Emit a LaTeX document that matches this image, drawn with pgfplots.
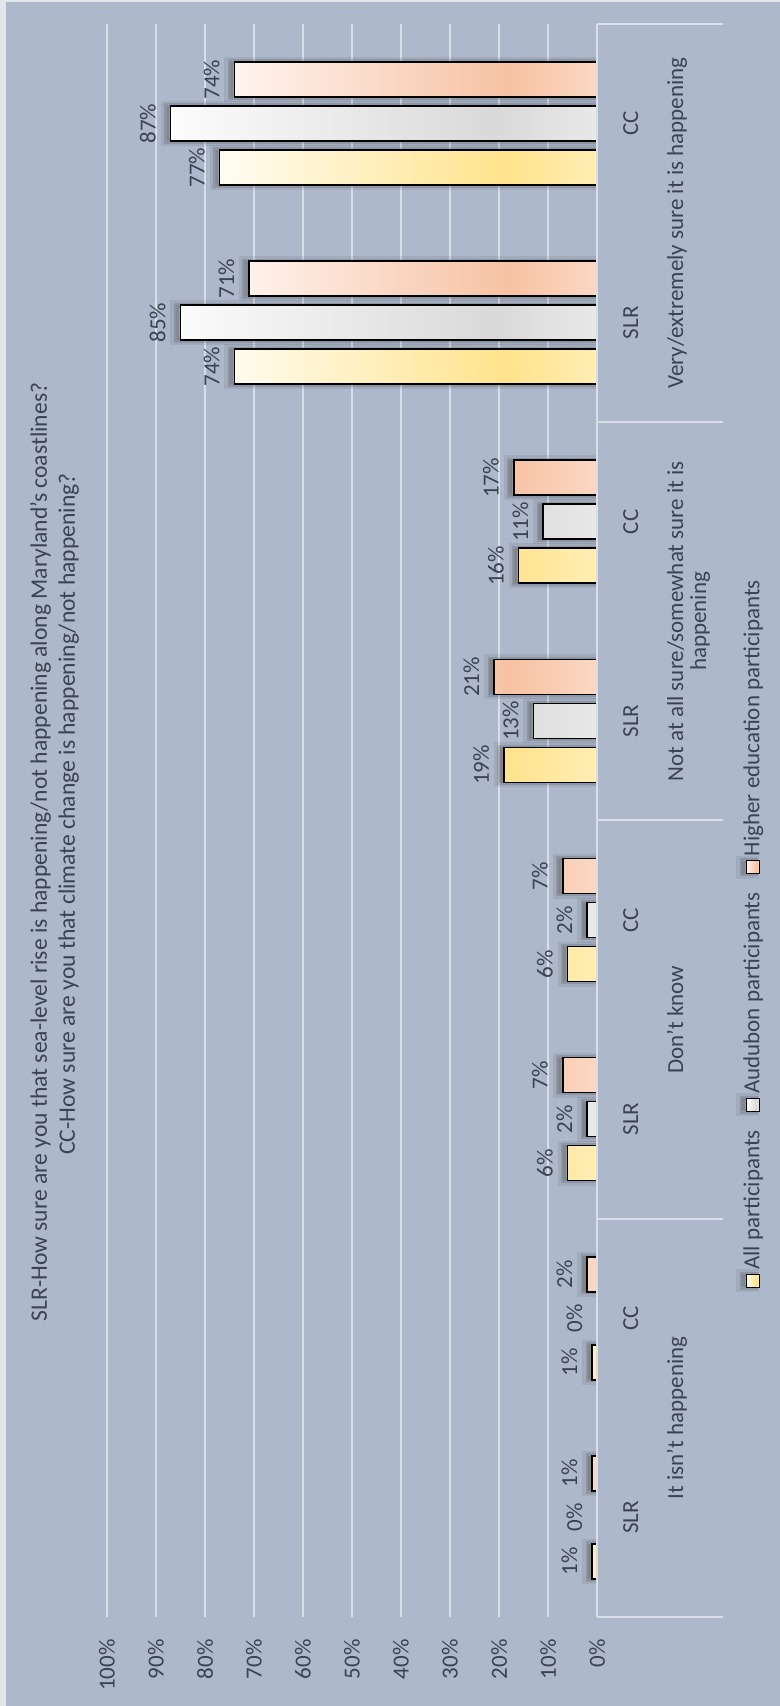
\documentclass[border=0pt]{standalone}
\usepackage{pgfplots}
\pgfplotsset{compat=1.18}
\usepackage{fontspec}
\setmainfont{Carlito}
\usetikzlibrary{shadows}

% palette
\definecolor{bgc}{HTML}{AEB8CB}
\definecolor{edgec}{HTML}{E2E5EA}
\definecolor{gridc}{HTML}{D9DEE7}
\definecolor{txtc}{HTML}{3C4350}
\definecolor{allT}{HTML}{FFFDF3}
\definecolor{allS}{HTML}{FFE38C}
\definecolor{allB}{HTML}{FFEDB4}
\definecolor{audT}{HTML}{FCFCFC}
\definecolor{audS}{HTML}{D9D9D9}
\definecolor{audB}{HTML}{E8E8E8}
\definecolor{higT}{HTML}{FFF4EF}
\definecolor{higS}{HTML}{F7C2A3}
\definecolor{higB}{HTML}{FBD8C3}

% bar gradients: pale at the top, strongest just above the base
\pgfdeclareverticalshading{allbar}{100bp}{color(0bp)=(allB); color(25bp)=(allB); color(37bp)=(allS); color(75bp)=(allT); color(100bp)=(allT)}
\pgfdeclareverticalshading{audbar}{100bp}{color(0bp)=(audB); color(25bp)=(audB); color(37bp)=(audS); color(75bp)=(audT); color(100bp)=(audT)}
\pgfdeclareverticalshading{higbar}{100bp}{color(0bp)=(higB); color(25bp)=(higB); color(37bp)=(higS); color(75bp)=(higT); color(100bp)=(higT)}

\newcommand\lfont{\fontsize{11.5}{13.8}\selectfont}
\newcommand\tfont{\fontsize{11.8}{14}\selectfont}
\pgfplotsset{/pgf/number format/assume math mode=true}
% soft halo above and beside each bar
\tikzset{barshadow/.style={
  general shadow={shadow xshift=0pt, shadow yshift=2.5pt, draw=black, fill=black, line width=5pt, opacity=0.07},
  general shadow={shadow xshift=0pt, shadow yshift=2pt, draw=black, fill=black, line width=2.6pt, opacity=0.12}}}
\pgfplotsset{
  groupbar/.style={ybar, bar width=17.5pt, bar shift=#1, draw=black, line width=0.8pt, shade, barshadow,
    every node near coord/.append style={xshift=#1}},
}

\begin{document}
\rotatebox{90}{%
\begin{tikzpicture}
\useasboundingbox (0pt,0pt) rectangle (853pt,390pt);
\fill[edgec] (0pt,0pt) rectangle (853pt,390pt);
\fill[bgc] (0pt,0pt) rectangle (852pt,387pt);

\node[anchor=base, text=txtc, font=\tfont] at (427pt,366.5pt)
  {SLR-How sure are you that sea-level rise is happening/not happening along Maryland's coastlines?};
\node[anchor=base, text=txtc, font=\tfont] at (446pt,352.5pt)
  {CC-How sure are you that climate change is happening/not happening?};

\begin{axis}[
  at={(44.5pt,91.5pt)}, anchor=south west,
  scale only axis, width=796.5pt, height=245pt,
  xmin=-0.5, xmax=7.5, ymin=0, ymax=100,
  axis line style={draw=none},
  xtick=\empty,
  ytick={0,10,...,100},
  yticklabel={\pgfmathprintnumber{\tick}\%},
  yticklabel style={anchor=east, xshift=-7.7pt, text=txtc, font=\lfont},
  major tick length=0pt,
  ymajorgrids, grid style={gridc, line width=1pt},
  clip=false,
  nodes near coords={\pgfmathprintnumber{\pgfplotspointmeta}\%},
  every node near coord/.append style={font=\lfont, text=txtc, inner sep=0pt, anchor=base, yshift=7.5pt},
  legend columns=3,
  legend style={draw=none, fill=none, at={(0.43,-0.318)}, anchor=center,
    font=\lfont, text=txtc, /tikz/every even column/.append style={column sep=7pt}},
  legend image code/.code={\draw[draw=black, line width=0.6pt, #1, barshadow/.style={}] (0pt,-3.25pt) rectangle (6.5pt,3.25pt);},
]
% order of groups: SLR, CC for each answer
\addplot[groupbar=-22pt, shading=allbar]
  coordinates {(0,1) (1,1) (2,6) (3,6) (4,19) (5,16) (6,74) (7,77)};
\addplot[groupbar=0pt, shading=audbar]
  coordinates {(2,2) (3,2) (4,13) (5,11) (6,85) (7,87)};
\addplot[groupbar=22pt, shading=higbar]
  coordinates {(0,1) (1,2) (2,7) (3,7) (4,21) (5,17) (6,71) (7,74)};
% Audubon answers at 0%: labelled, with no visible bar
\addplot[ybar, bar width=17.5pt, bar shift=0pt, draw=none, fill=none, forget plot]
  coordinates {(0,0) (1,0)};
\legend{All participants, Audubon participants, Higher education participants}

% baseline and category separators
\draw[gridc, line width=1.2pt] (axis cs:-0.5,0) -- (axis cs:7.5,0);
\pgfplotsinvokeforeach{-0.5,1.5,3.5,5.5,7.5}{
  \draw[gridc, line width=1pt] (axis cs:#1,0) -- ++(0pt,-63pt);
}
\pgfplotsinvokeforeach{0,2,4,6}{
  \node[anchor=base, yshift=-20.5pt, text=txtc, font=\lfont] at (axis cs:#1,0) {SLR};
}
\pgfplotsinvokeforeach{1,3,5,7}{
  \node[anchor=base, yshift=-20.5pt, text=txtc, font=\lfont] at (axis cs:#1,0) {CC};
}
\node[anchor=base, yshift=-43pt, text=txtc, font=\lfont] at (axis cs:0.5,0) {It isn't happening};
\node[anchor=base, yshift=-43pt, text=txtc, font=\lfont] at (axis cs:2.5,0) {Don't know};
\node[anchor=base, yshift=-43pt, text=txtc, font=\lfont] at (axis cs:4.5,0) {Not at all sure/somewhat sure it is};
\node[anchor=base, yshift=-54.5pt, text=txtc, font=\lfont] at (axis cs:4.5,0) {happening};
\node[anchor=base, yshift=-43pt, text=txtc, font=\lfont] at (axis cs:6.5,0) {Very/extremely sure it is happening};
\end{axis}
\end{tikzpicture}%
}
\end{document}
